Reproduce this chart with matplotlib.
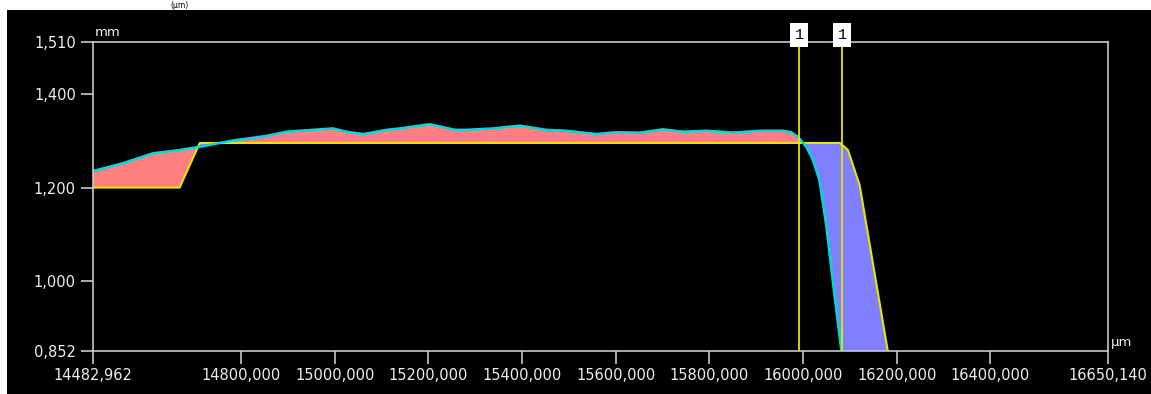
import numpy as np
import matplotlib.pyplot as plt
from matplotlib.patches import Rectangle

# measured profile (µm, mm)
meas_x = [14482.962, 14548, 14612, 14669, 14712, 14782, 14854, 14897, 14968, 14996,
          15025, 15061, 15111, 15139, 15203, 15257, 15282, 15338, 15395, 15452,
          15495, 15559, 15602, 15651, 15701, 15744, 15794, 15851, 15908, 15957,
          15975, 15989, 16007, 16021, 16035, 16050, 16064, 16082]
meas_y = [1.235, 1.252, 1.273, 1.280, 1.287, 1.300, 1.310, 1.319, 1.324, 1.326,
          1.319, 1.314, 1.323, 1.326, 1.335, 1.323, 1.323, 1.326, 1.332, 1.323,
          1.321, 1.314, 1.318, 1.317, 1.324, 1.319, 1.321, 1.317, 1.321, 1.321,
          1.318, 1.308, 1.287, 1.259, 1.216, 1.117, 0.997, 0.852]

# nominal profile
nom_x = [14482.962, 14669, 14712, 16079, 16096, 16121, 16181]
nom_y = [1.200, 1.200, 1.295, 1.295, 1.280, 1.205, 0.852]

# cursors
cursor_x = [15992, 16084]
cursor_labels = ['1', '1']

x_min, x_max = 14482.962, 16650.140
y_min, y_max = 0.852, 1.510
x_ticks = [14482.962, 14800, 15000, 15200, 15400, 15600, 15800, 16000, 16200, 16400, 16650.140]
y_ticks = [0.852, 1.000, 1.200, 1.400, 1.510]

def fmt(v):
    return f'{v:.3f}'.replace('.', ',')

W, H = 1151, 394
fig = plt.figure(figsize=(W / 100, H / 100), dpi=100)
fig.patch.set_facecolor('white')
fig.patches.append(Rectangle((7 / W, 0), 1 - 7 / W, 1 - 10 / H, transform=fig.transFigure,
                             facecolor='black', edgecolor='none', zorder=-10))
fig.text(170 / W, 1 - 5 / H, '(µm)', color='black', fontsize=5.5, va='center')

ax = fig.add_axes([92.5 / W, 43 / H, (1107.5 - 92.5) / W, (352 - 43) / H])
ax.set_facecolor('black')

fx = np.union1d(meas_x, nom_x)
fm = np.interp(fx, meas_x, meas_y)
fn = np.interp(fx, nom_x, nom_y)
ax.fill_between(fx, fm, fn, where=fm >= fn, interpolate=True, color='#FF8080', lw=0)
ax.fill_between(fx, fm, fn, where=fm <= fn, interpolate=True, color='#8080FF', lw=0)

ax.plot(nom_x, nom_y, color='#E6E600', lw=1.5)
ax.plot(meas_x, meas_y, color='#00D8D8', lw=1.8)

for cx, lab in zip(cursor_x, cursor_labels):
    ax.axvline(cx, color='#E6E600', lw=1.3)
    ax.text(cx, y_max, lab, ha='center', va='bottom', fontsize=11, color='black',
            family='Liberation Mono', clip_on=False,
            bbox=dict(boxstyle='square,pad=0.3', facecolor='white', edgecolor='none'))

ax.set_xlim(x_min, x_max)
ax.set_ylim(y_min, y_max)
ax.set_xticks(x_ticks)
ax.set_xticklabels([fmt(v) for v in x_ticks])
ax.set_yticks(y_ticks)
ax.set_yticklabels([fmt(v) for v in y_ticks])

for s in ax.spines.values():
    s.set_color('#C8C8C8')
    s.set_linewidth(1.2)
ax.tick_params(colors='#C8C8C8', labelcolor='#EEEEEE', labelsize=10.5, length=9, width=1.2)
ax.tick_params(axis='x', pad=3)
ax.tick_params(axis='y', pad=3)

ax.text(0.002, 1.01, 'mm', transform=ax.transAxes, color='#EEEEEE', fontsize=9.5,
        ha='left', va='bottom')
ax.text(1.003, 0.005, 'µm', transform=ax.transAxes, color='#EEEEEE', fontsize=9.5,
        ha='left', va='bottom')

fig.savefig('out.png', dpi=100, facecolor=fig.get_facecolor())
